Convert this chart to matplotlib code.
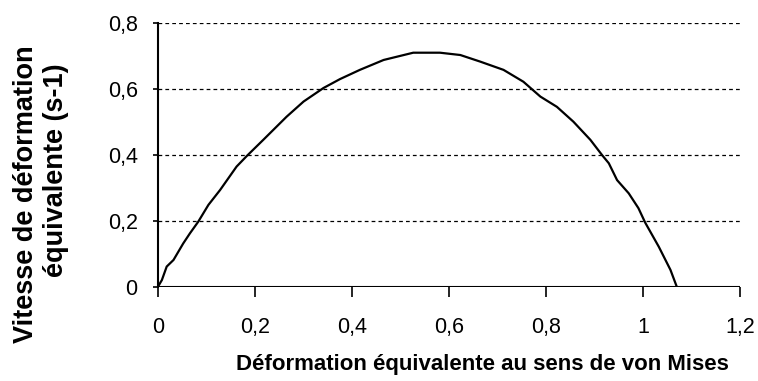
import matplotlib
matplotlib.use("Agg")
import matplotlib.pyplot as plt
from matplotlib.ticker import FuncFormatter

plt.rcParams['font.family'] = ['Liberation Sans', 'DejaVu Sans']

# Equivalent von Mises strain vs equivalent strain rate
strain = [0.0, 0.008, 0.018, 0.032, 0.052, 0.066, 0.083, 0.104, 0.128, 0.162,
          0.183, 0.217, 0.265, 0.300, 0.341, 0.375, 0.416, 0.465, 0.526, 0.581,
          0.623, 0.664, 0.712, 0.753, 0.788, 0.822, 0.856, 0.891, 0.915, 0.929,
          0.946, 0.970, 0.990, 1.004, 1.032, 1.056, 1.069]
rate = [0.0, 0.020, 0.061, 0.081, 0.131, 0.162, 0.197, 0.248, 0.293, 0.364,
        0.396, 0.445, 0.515, 0.561, 0.602, 0.629, 0.657, 0.687, 0.709, 0.709,
        0.702, 0.682, 0.657, 0.621, 0.576, 0.545, 0.500, 0.445, 0.399, 0.374,
        0.323, 0.283, 0.238, 0.194, 0.121, 0.051, 0.0]

x_ticks = [0, 0.2, 0.4, 0.6, 0.8, 1.0, 1.2]
y_ticks = [0, 0.2, 0.4, 0.6, 0.8]

fig = plt.figure(figsize=(7.58, 3.81), dpi=100)
ax = fig.add_axes([0.2084, 0.2475, 0.7683, 0.693])

for yv in y_ticks[1:]:
    ax.axhline(yv, color='black', lw=0.9, ls=(0, (3, 2.5)), zorder=1)
ax.axhline(0, color='black', lw=1.5, zorder=2)

ax.plot(strain, rate, color='black', lw=1.6, zorder=3,
        solid_joinstyle='round')

ax.set_xlim(0, 1.2)
ax.set_ylim(0, 0.8)
ax.set_xticks(x_ticks)
ax.set_yticks(y_ticks)

def comma(v, pos):
    s = f"{v:.1f}".rstrip('0').rstrip('.')
    return s.replace('.', ',')

ax.xaxis.set_major_formatter(FuncFormatter(comma))
ax.yaxis.set_major_formatter(FuncFormatter(comma))

for side in ('top', 'right', 'bottom'):
    ax.spines[side].set_visible(False)
ax.spines['left'].set_linewidth(1.5)
ax.tick_params(axis='x', direction='out', length=7, width=1.2,
               labelsize=15.5, pad=15)
ax.tick_params(axis='y', direction='out', length=3.6, width=1.2,
               labelsize=15.5, pad=11)

fig.text(0.636, 0.042, "Déformation équivalente au sens de von Mises",
         fontsize=16, fontweight='bold', ha='center', va='center')
fig.text(0.0343, 0.491, "Vitesse de déformation", rotation=90,
         fontsize=19.5, fontweight='bold', ha='center', va='center')
fig.text(0.0739, 0.554, "équivalente (s-1)", rotation=90,
         fontsize=19.5, fontweight='bold', ha='center', va='center')

fig.savefig("out.png", dpi=100, facecolor='white')
